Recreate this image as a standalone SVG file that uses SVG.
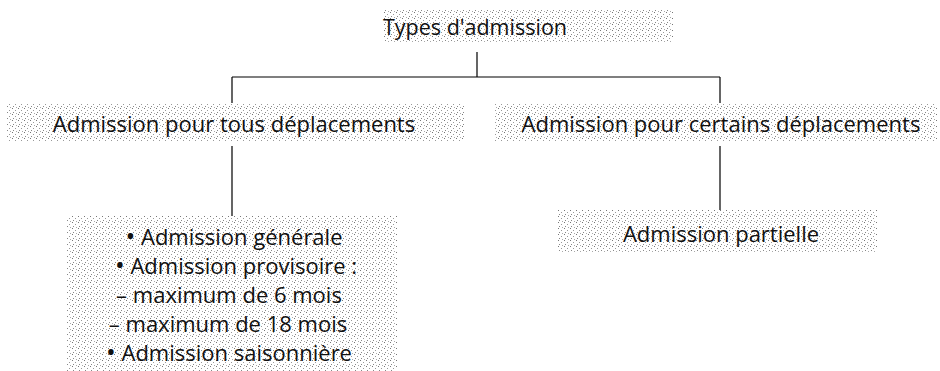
<svg xmlns="http://www.w3.org/2000/svg" width="940" height="371" viewBox="0 0 940 371">
<defs>
<pattern id="stip" width="6" height="6" patternUnits="userSpaceOnUse">
<rect x="0" y="0" width="1" height="1" fill="#777"/>
<rect x="3" y="2" width="1" height="1" fill="#999"/>
<rect x="1" y="4" width="1" height="1" fill="#888"/>
<rect x="4" y="5" width="1" height="1" fill="#aaa"/>
</pattern>
<style>
.box{fill:url(#stip);}
.t{font-family:"Open Sans","Liberation Sans",sans-serif;font-size:22px;fill:#111;text-anchor:middle;}
.b{font-size:26px;}
.c{stroke:#000;stroke-width:1.2;fill:none;}
</style>
</defs>
<rect width="940" height="371" fill="#fff"/>
<g id="connectors">
<path class="c" d="M477 52V77M232 77H720M232 77V103M720 77V103M232 146V216M720 146V210"/>
</g>
<g id="n-types">
<rect class="box" x="383" y="10" width="290" height="32"/>
<text class="t" x="475" y="35" style="font-size:21.5px">Types d'admission</text>
</g>
<g id="n-tous">
<rect class="box" x="7" y="103" width="457" height="38"/>
<text class="t" x="234" y="132">Admission pour tous déplacements</text>
</g>
<g id="n-certains">
<rect class="box" x="495" y="103" width="442" height="38"/>
<text class="t" x="721" y="132">Admission pour certains déplacements</text>
</g>
<g id="n-liste">
<rect class="box" x="67" y="216" width="330" height="155"/>
<text class="t" x="234" y="245"><tspan class="b">•</tspan> Admission générale</text>
<text class="t" x="236" y="274"><tspan class="b">•</tspan> Admission provisoire :</text>
<text class="t" x="229" y="303">– maximum de 6 mois</text>
<text class="t" x="228" y="332">– maximum de 18 mois</text>
<text class="t" x="229" y="361"><tspan class="b">•</tspan> Admission saisonnière</text>
</g>
<g id="n-partielle">
<rect class="box" x="558" y="210" width="319" height="42"/>
<text class="t" x="721" y="242">Admission partielle</text>
</g>
</svg>
